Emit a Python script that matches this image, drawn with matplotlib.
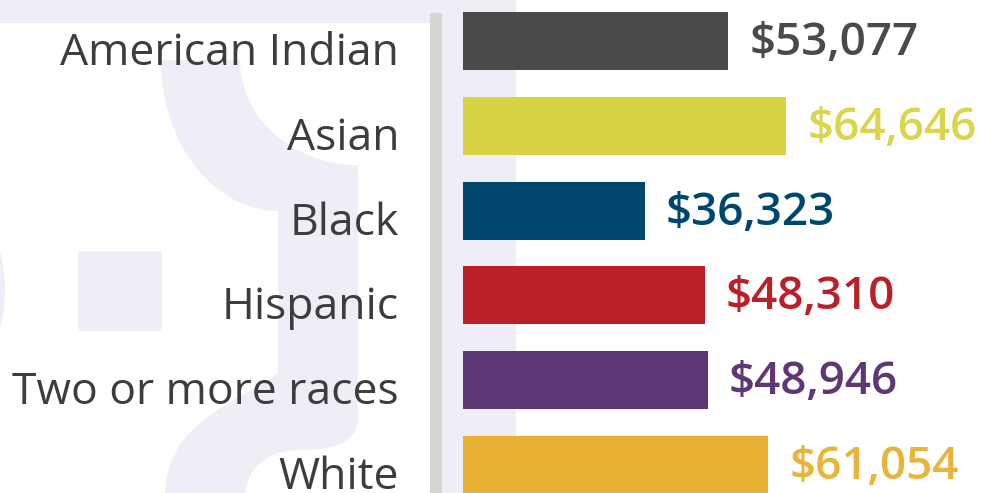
import matplotlib.pyplot as plt
from matplotlib.patches import Rectangle, Circle, PathPatch
from matplotlib.path import Path

categories = ['American Indian', 'Asian', 'Black', 'Hispanic', 'Two or more races', 'White']
incomes = [53077, 64646, 36323, 48310, 48946, 61054]
bar_colors = ['#4a4a4c', '#d8d245', '#00476e', '#bb2029', '#5e3775', '#e8b134']
text_colors = ['#4a4a4c', '#d9d54c', '#00476e', '#bb2029', '#5e3775', '#e9b43a']

W, H = 992, 493
lavender = '#efeef7'

fig = plt.figure(figsize=(W / 100, H / 100), dpi=100)
fig.patch.set_facecolor('white')

# background decoration, in pixel coordinates
bg = fig.add_axes([0, 0, 1, 1], zorder=0)
bg.set_xlim(0, W)
bg.set_ylim(H, 0)
bg.axis('off')

bg.add_patch(Rectangle((0, 0), 516, 23, color=lavender, lw=0))
bg.add_patch(Rectangle((442, 0), 74, H, color=lavender, lw=0))
bg.add_patch(Rectangle((78, 251), 84, 80, color=lavender, lw=0))
bg.add_patch(Circle((-150, 290), 155, color=lavender, lw=0))

verts = [
    (161, 60), (240, 60),
    (240, 118), (293, 165), (358, 165),
    (358, 417),
    (358, 445), (330, 450), (300, 450),
    (265, 450), (245, 470), (245, 500),
    (165, 500), (165, 493),
    (168, 420), (235, 405), (278, 373),
    (278, 211),
    (214, 211), (161, 143), (161, 60),
    (161, 60),
]
codes = [Path.MOVETO, Path.LINETO,
         Path.CURVE4, Path.CURVE4, Path.CURVE4,
         Path.LINETO,
         Path.CURVE4, Path.CURVE4, Path.CURVE4,
         Path.CURVE4, Path.CURVE4, Path.CURVE4,
         Path.LINETO, Path.LINETO,
         Path.CURVE4, Path.CURVE4, Path.CURVE4,
         Path.LINETO,
         Path.CURVE4, Path.CURVE4, Path.CURVE4,
         Path.CLOSEPOLY]
bg.add_patch(PathPatch(Path(verts, codes), facecolor=lavender, lw=0))

# grey divider
bg.add_patch(Rectangle((430, 13), 12, H - 13, color='#d7d6d1', lw=0))

# bar axes: starts at x=463px, 5px per $1000
left = 463
ax = fig.add_axes([left / W, 0, (W - left) / W, 1], zorder=1)
ax.patch.set_alpha(0)
ax.set_xlim(0, (W - left) / 5 * 1000)
step = 84.7
ax.set_ylim((H - 41.3) / step, -41.3 / step)
ax.axis('off')

y = list(range(len(categories)))
ax.barh(y, incomes, height=58 / step, color=bar_colors)

for i, (cat, v) in enumerate(zip(categories, incomes)):
    ax.annotate(cat, xy=(0, i + 0.15), xytext=(-46, 0), textcoords='offset points',
                ha='right', va='center', fontsize=32, color='#3d3d3d',
                family='Open Sans', annotation_clip=False)
    ax.annotate(f'${v:,}', xy=(v, i + 0.03), xytext=(15, 0), textcoords='offset points',
                ha='left', va='center', fontsize=33, color=text_colors[i],
                family='Open Sans', fontweight='semibold', annotation_clip=False)

plt.savefig('out.png', dpi=100)
